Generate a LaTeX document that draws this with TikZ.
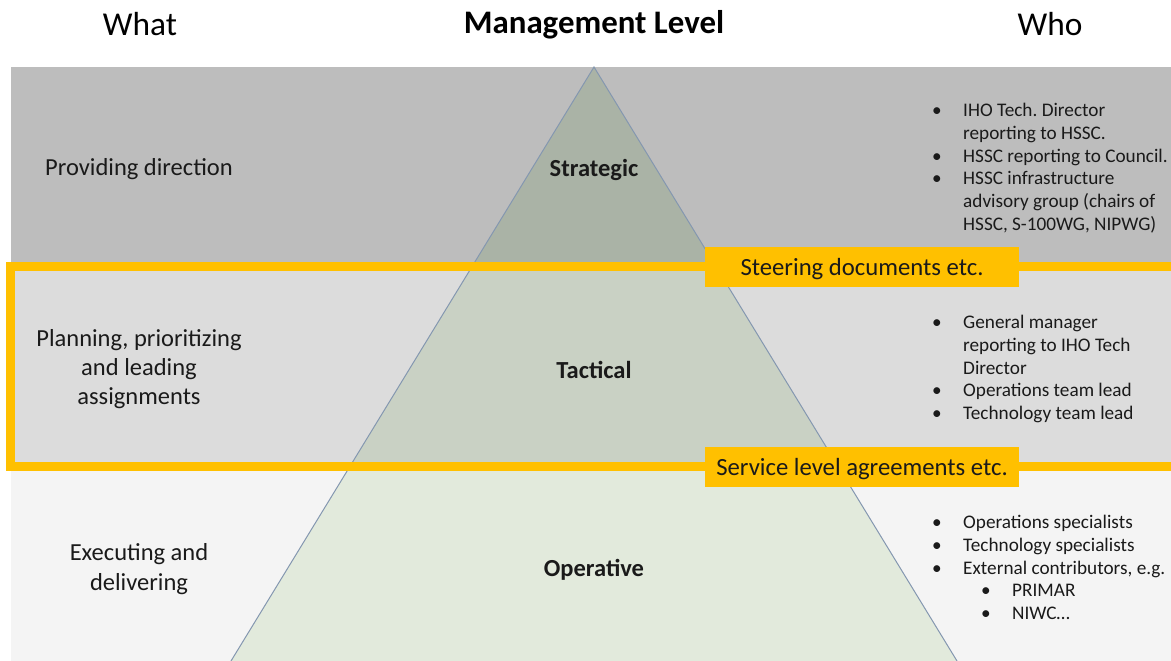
\documentclass[tikz,border=0pt]{standalone}
\usepackage{fontspec}
\setmainfont{Carlito}
\usetikzlibrary{calc}
\frenchspacing
\definecolor{bandA}{HTML}{BDBDBD}
\definecolor{bandB}{HTML}{DCDCDC}
\definecolor{bandC}{HTML}{F4F4F4}
\definecolor{triA}{HTML}{AAB3A6}
\definecolor{triB}{HTML}{C9D1C4}
\definecolor{triC}{HTML}{E2EADC}
\definecolor{edge}{HTML}{8497B0}
\definecolor{gold}{HTML}{FFC000}
\definecolor{ink}{HTML}{1A1A1A}
\tikzset{
  header/.style={font=\fontsize{33.5}{38}\selectfont, text=black, inner sep=0pt},
  headbold/.style={font=\fontsize{33}{38}\selectfont\bfseries, text=black, inner sep=0pt},
  whatlabel/.style={font=\fontsize{24.6}{29.5}\selectfont, text=ink, align=center, inner sep=0pt},
  levellabel/.style={font=\fontsize{24.6}{29}\selectfont\bfseries, text=ink, inner sep=0pt},
  wholist/.style={font=\fontsize{19.3}{23}\selectfont, text=ink, anchor=north west, inner sep=0pt},
  goldbox/.style={fill=gold, minimum width=314bp, minimum height=40bp, inner sep=0pt, text depth=0pt, font=\fontsize{24.8}{29}\selectfont, text=ink},
}
\newcommand{\mysubitem}[1]{\hspace*{18bp}\makebox[31bp][l]{\textbullet}#1}
\begin{document}
\begin{tikzpicture}[x=1bp,y=-1bp]
\useasboundingbox (0,0) rectangle (1171,661);
\clip (0,0) rectangle (1171,661);
\fill[white] (0,0) rectangle (1171,661);
% bands
\fill[bandA] (11,67) rectangle (1171,266);
\fill[bandB] (11,266) rectangle (1171,466);
\fill[bandC] (11,466) rectangle (1171,661);
% pyramid
\coordinate (apex) at (594,67);
\coordinate (bl) at (231,661);
\coordinate (br) at (957,661);
\begin{scope}
  \clip (apex) -- (bl) -- (br) -- cycle;
  \fill[triA] (11,60) rectangle (1171,266);
  \fill[triB] (11,266) rectangle (1171,466);
  \fill[triC] (11,466) rectangle (1171,661);
\end{scope}
\draw[edge, line width=1bp] (bl) -- (apex) -- (br);
% gold frame
\draw[gold, line width=8.5bp, line join=miter] (1180,266.7) -- (10.5,266.7) -- (10.5,466.5) -- (1180,466.5);
\node[goldbox] (steer) at (862,267) {Steering documents etc.};
\node[goldbox] (sla) at (862,466.5) {Service level agreements etc.};
% headers
\node[header] (what) at (140,24) {What};
\node[headbold] (mgmt) at (594,25) {Management Level};
\node[header] (who) at (1050,24) {Who};
% what labels
\node[whatlabel] (dir) at (139,169) {Providing direction};
\node[whatlabel] (plan) at (139,369) {Planning, prioritizing\\and leading\\assignments};
\node[whatlabel] (exec) at (139,569) {Executing and\\delivering};
% level labels
\node[levellabel] (strat) at (594,170) {Strategic};
\node[levellabel] (tact) at (594,370) {Tactical};
\node[levellabel] (oper) at (594,570) {Operative};
% who lists
\node[wholist] (whoA) at (932,100) {\begin{tabular}{@{}p{31bp}@{}l@{}}
\textbullet & IHO Tech. Director\\
 & reporting to HSSC.\\
\textbullet & HSSC reporting to Council.\\
\textbullet & HSSC infrastructure\\
 & advisory group (chairs of\\
 & HSSC, S-100WG, NIPWG)
\end{tabular}};
\node[wholist] (whoB) at (932,312) {\begin{tabular}{@{}p{31bp}@{}l@{}}
\textbullet & General manager\\
 & reporting to IHO Tech\\
 & Director\\
\textbullet & Operations team lead\\
\textbullet & Technology team lead
\end{tabular}};
\node[wholist] (whoC) at (932,512) {\begin{tabular}{@{}p{31bp}@{}l@{}}
\textbullet & Operations specialists\\
\textbullet & Technology specialists\\
\textbullet & External contributors, e.g.\\
 & \mysubitem{PRIMAR}\\
 & \mysubitem{NIWC…}
\end{tabular}};
\end{tikzpicture}
\end{document}
